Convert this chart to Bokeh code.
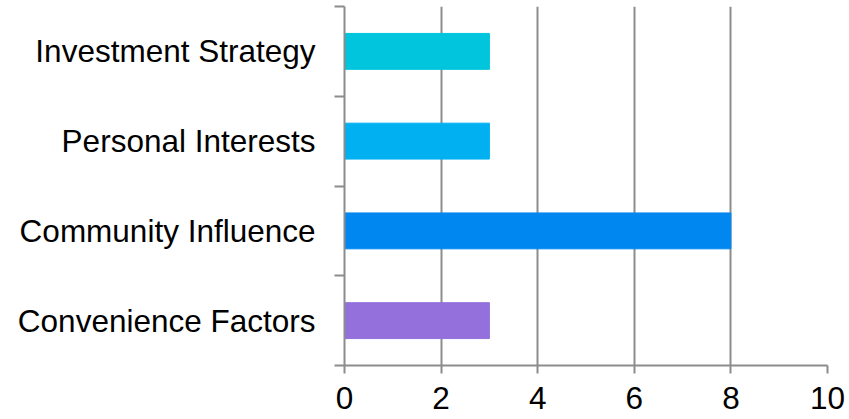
from bokeh.plotting import figure
from bokeh.models import FixedTicker, Range1d, ColumnDataSource
from bokeh.embed import file_html
from bokeh.resources import INLINE

categories = ["Convenience Factors", "Community Influence", "Personal Interests", "Investment Strategy"]
values = [3, 8, 3, 3]
colors = ["#9370DB", "#0088F0", "#00B0F0", "#00C5DC"]
x_ticks = [0, 2, 4, 6, 8, 10]

ypos = [i + 0.5 for i in range(len(categories))]
src = ColumnDataSource(dict(y=ypos, v=values, c=colors, cat=categories))

GRAY = "#8c8c8c"
FONT = "Liberation Sans"

p = figure(width=849, height=419, output_backend="svg", toolbar_location=None,
           x_range=Range1d(0, 10), y_range=Range1d(0, len(categories)))
p.min_border_left = 344
p.min_border_right = 22
p.min_border_top = 6
p.min_border_bottom = 54
p.outline_line_color = None
p.background_fill_color = "white"
p.border_fill_color = "white"

p.hbar(y="y", left=0, right="v", height=0.4, color="c", source=src)

# x axis
p.xaxis.ticker = FixedTicker(ticks=x_ticks)
p.xaxis.axis_line_color = GRAY
p.xaxis.axis_line_width = 2
p.xaxis.major_tick_line_color = GRAY
p.xaxis.major_tick_line_width = 2
p.xaxis.major_tick_out = 8
p.xaxis.major_tick_in = 0
p.xaxis.minor_tick_line_color = None
p.xaxis.major_label_text_font = FONT
p.xaxis.major_label_text_font_size = "31.5px"
p.xaxis.major_label_text_color = "black"
p.xaxis.major_label_standoff = 13

# y axis: labels at centres, tick marks at band boundaries
p.yaxis.ticker = FixedTicker(ticks=ypos, minor_ticks=list(range(len(categories) + 1)))
p.yaxis.major_label_overrides = {y: c for y, c in zip(ypos, categories)}
p.yaxis.axis_line_color = GRAY
p.yaxis.axis_line_width = 2
p.yaxis.major_tick_line_color = None
p.yaxis.major_tick_out = 0
p.yaxis.major_tick_in = 0
p.yaxis.minor_tick_line_color = GRAY
p.yaxis.minor_tick_line_width = 2
p.yaxis.minor_tick_out = 10
p.yaxis.minor_tick_in = 0
p.yaxis.major_label_text_font = FONT
p.yaxis.major_label_text_font_size = "31.5px"
p.yaxis.major_label_text_color = "black"
p.yaxis.major_label_standoff = 19

p.xgrid.ticker = FixedTicker(ticks=x_ticks)
p.xgrid.grid_line_color = GRAY
p.xgrid.grid_line_width = 2
p.ygrid.grid_line_color = None

open("out.html", "w").write(file_html(p, INLINE))
